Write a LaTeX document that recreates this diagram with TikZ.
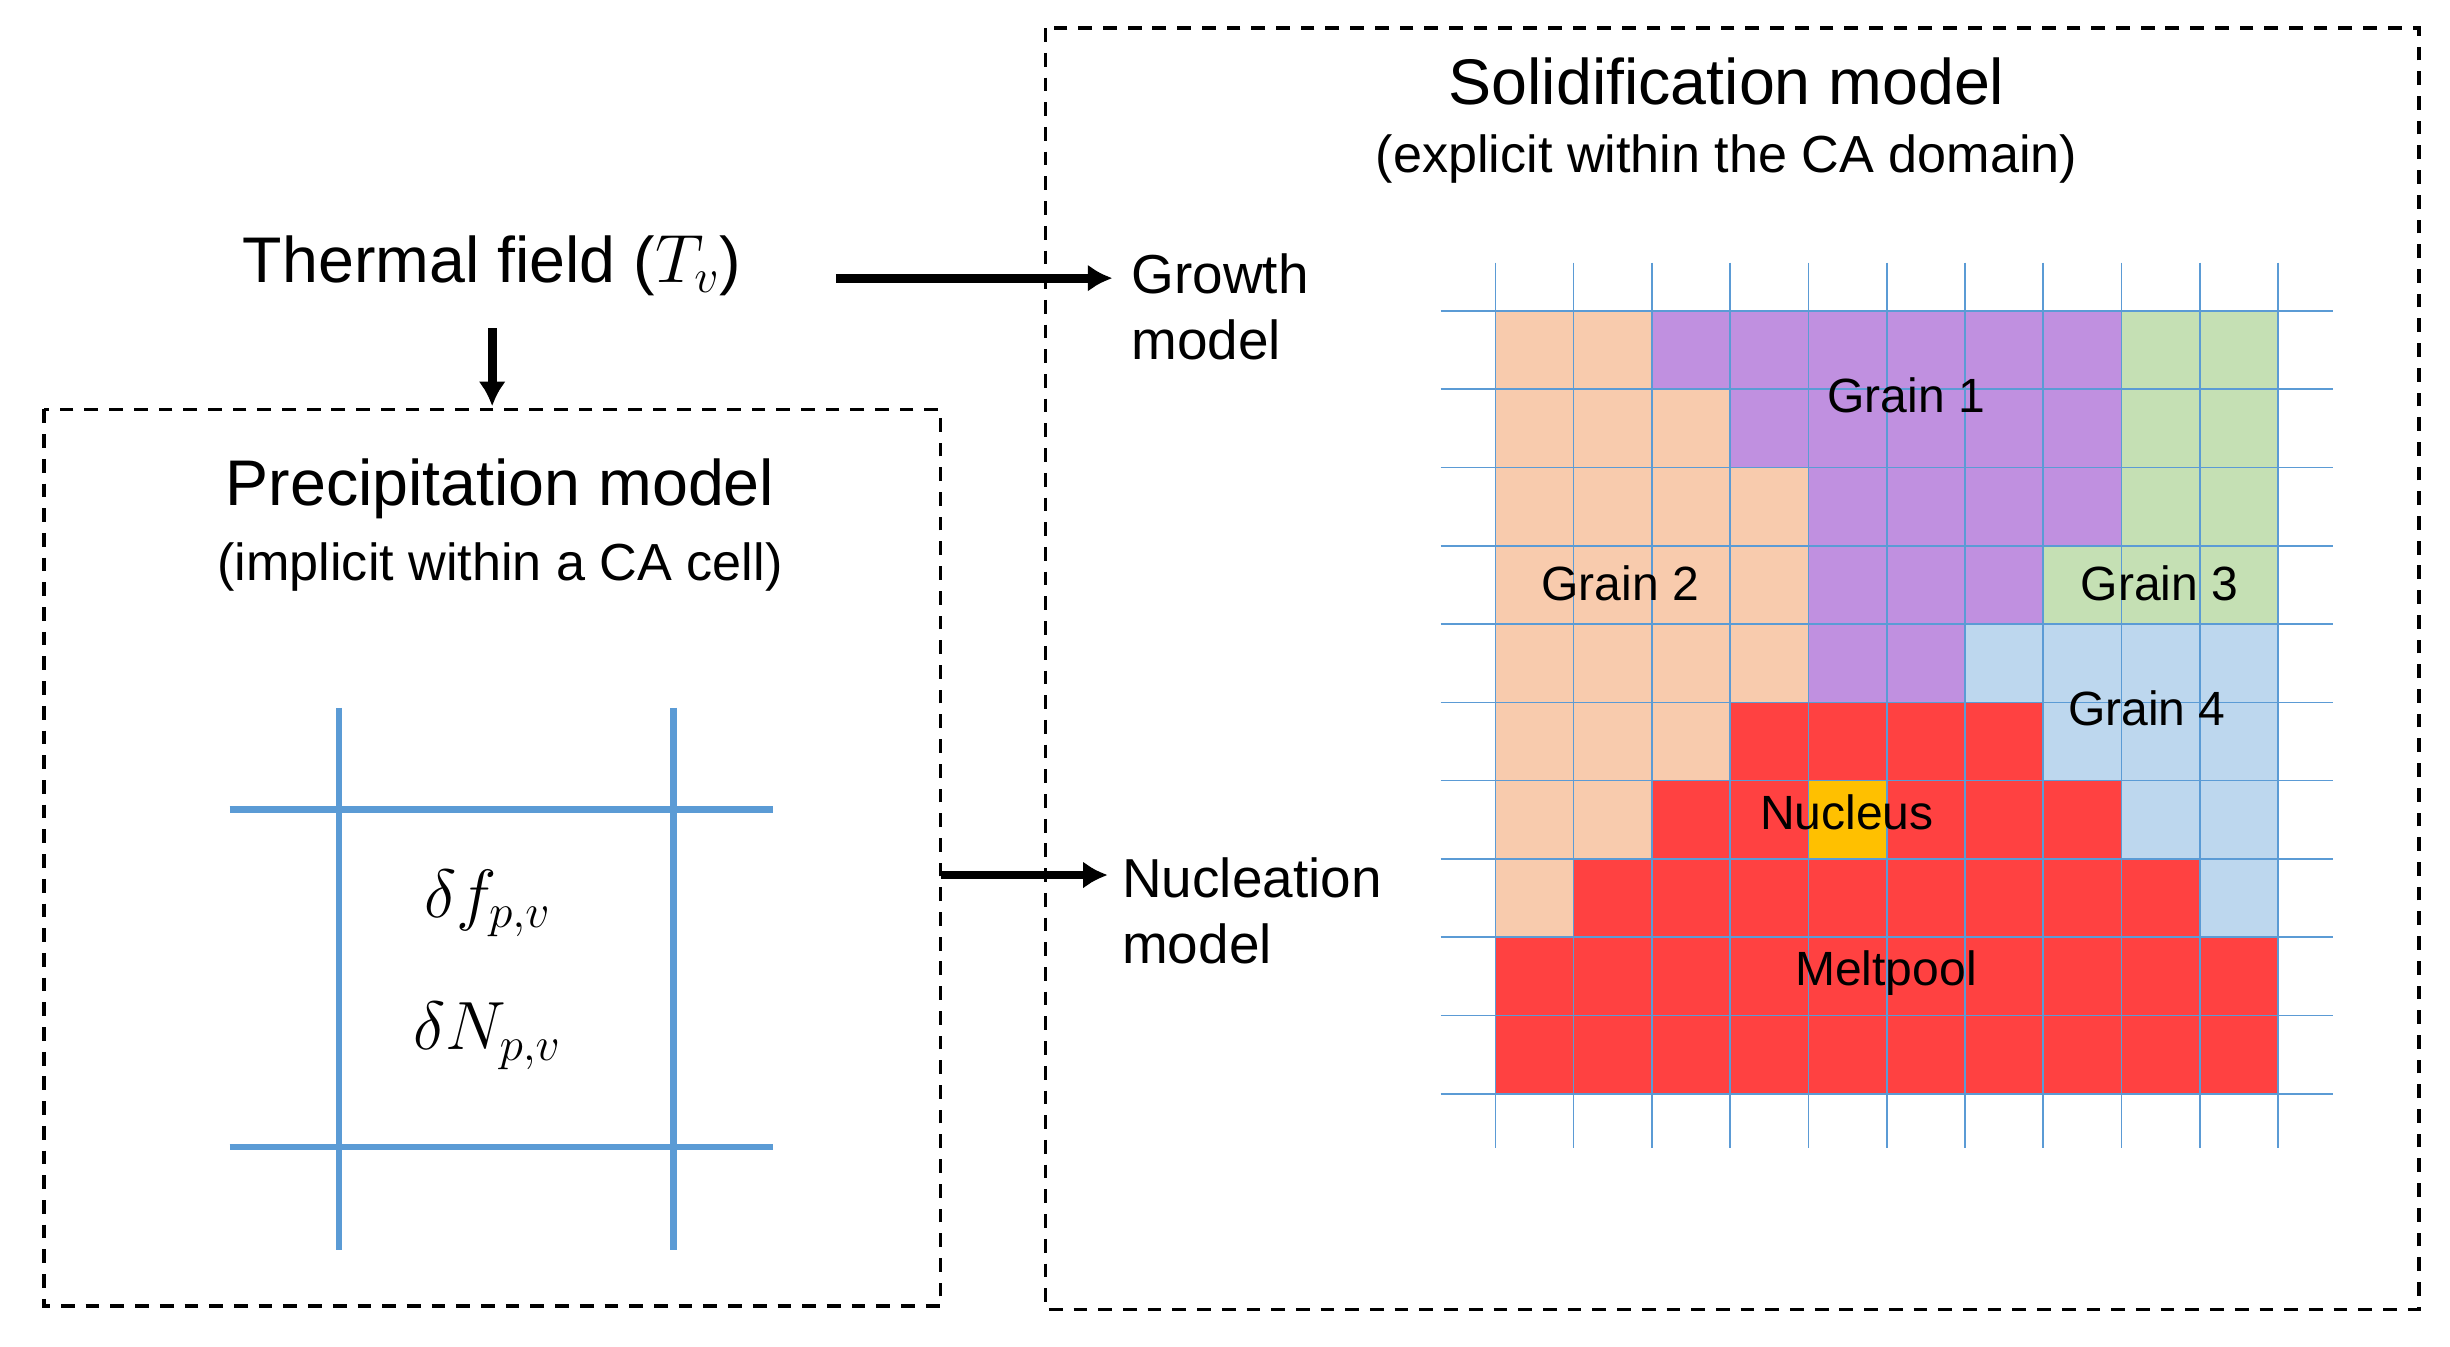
\documentclass[tikz,border=0pt]{standalone}
\usepackage{fontspec}
\setmainfont{Liberation Sans}
\usetikzlibrary{arrows.meta}
\definecolor{gor}{RGB}{248,203,173}
\definecolor{gpu}{RGB}{192,144,224}
\definecolor{ggr}{RGB}{197,224,180}
\definecolor{gbl}{RGB}{189,215,238}
\definecolor{gre}{RGB}{255,65,65}
\definecolor{gye}{RGB}{255,192,0}
\definecolor{lbl}{RGB}{91,155,213}
\def\crow#1#2#3#4{\fill[#4] ({957+50.1*#2},{199+50.1*#1}) rectangle ({957+50.1*(#3+1)},{199+50.1*(#1+1)});}
\begin{document}
\begin{tikzpicture}[x=0.02cm,y=-0.02cm,
  big/.style={font=\fontsize{23.5}{28}\selectfont},
  mid/.style={font=\fontsize{19}{23}\selectfont},
  lab/.style={font=\fontsize{17.5}{20}\selectfont},
  arr/.style={line width=3.2pt,-{Latex[length=9pt,width=10pt]}},
  box/.style={dash pattern=on 5pt off 4pt,line width=1.3pt}]
\useasboundingbox (0,0) rectangle (1568,861.5);
% boxes
\draw[box] (28,262) rectangle (602,836);
\draw[box] (669,18) rectangle (1548,838);
% grid cells
\crow{0}{0}{1}{gor}\crow{0}{2}{7}{gpu}\crow{0}{8}{9}{ggr}
\crow{1}{0}{2}{gor}\crow{1}{3}{7}{gpu}\crow{1}{8}{9}{ggr}
\crow{2}{0}{3}{gor}\crow{2}{4}{7}{gpu}\crow{2}{8}{9}{ggr}
\crow{3}{0}{3}{gor}\crow{3}{4}{6}{gpu}\crow{3}{7}{9}{ggr}
\crow{4}{0}{3}{gor}\crow{4}{4}{5}{gpu}\crow{4}{6}{9}{gbl}
\crow{5}{0}{2}{gor}\crow{5}{3}{6}{gre}\crow{5}{7}{9}{gbl}
\crow{6}{0}{1}{gor}\crow{6}{2}{3}{gre}\crow{6}{4}{4}{gye}\crow{6}{5}{7}{gre}\crow{6}{8}{9}{gbl}
\crow{7}{0}{0}{gor}\crow{7}{1}{8}{gre}\crow{7}{9}{9}{gbl}
\crow{8}{0}{9}{gre}
\crow{9}{0}{9}{gre}
\foreach \i in {0,...,10}{
  \draw[lbl,line width=0.6pt] ({957+50.1*\i},168) -- ({957+50.1*\i},735);
  \draw[lbl,line width=0.6pt] (922,{199+50.1*\i}) -- (1493,{199+50.1*\i});
}
% grain labels
\node[lab] (g1) at (1220,253) {Grain 1};
\node[lab] (g2) at (1037,373) {Grain 2};
\node[lab] (g3) at (1382,373) {Grain 3};
\node[lab] (g4) at (1374,453) {Grain 4};
\node[lab] (nu) at (1182,520) {Nucleus};
\node[lab] (mp) at (1207,623) {Meltpool};
% titles
\node[big] (st) at (1105,52) {Solidification model};
\node[mid] (ss) at (1105,102) {(explicit within the CA domain)};
\node[big] (pt) at (320,313) {Precipitation model};
\node[mid] (ps) at (320,363) {(implicit within a CA cell)};
\node[big] (th) at (315,170) {Thermal field ($T_v$)};
\node[font=\fontsize{20}{24}\selectfont,align=left,anchor=north west] (gr) at (718,156) {Growth\\model};
\node[font=\fontsize{20}{24}\selectfont,align=left,anchor=north west] (nm) at (712,543) {Nucleation\\model};
% arrows
\coordinate (a1) at (535,178); \coordinate (a2) at (712,178);
\coordinate (b1) at (315,210); \coordinate (b2) at (315,260);
\coordinate (c1) at (602,560); \coordinate (c2) at (709,560);
\draw[arr] (a1) -- (a2);
\draw[arr] (b1) -- (b2);
\draw[arr] (c1) -- (c2);
% cell cross
\draw[lbl,line width=2.4pt] (217,453) -- (217,800);
\draw[lbl,line width=2.4pt] (431,453) -- (431,800);
\draw[lbl,line width=2.4pt] (147,518) -- (495,518);
\draw[lbl,line width=2.4pt] (147,734) -- (495,734);
\node[font=\fontsize{24}{28}\selectfont] (df) at (312,578) {$\delta f_{p,v}$};
\node[font=\fontsize{24}{28}\selectfont] (dn) at (312,663) {$\delta N_{p,v}$};
\end{tikzpicture}
\end{document}
